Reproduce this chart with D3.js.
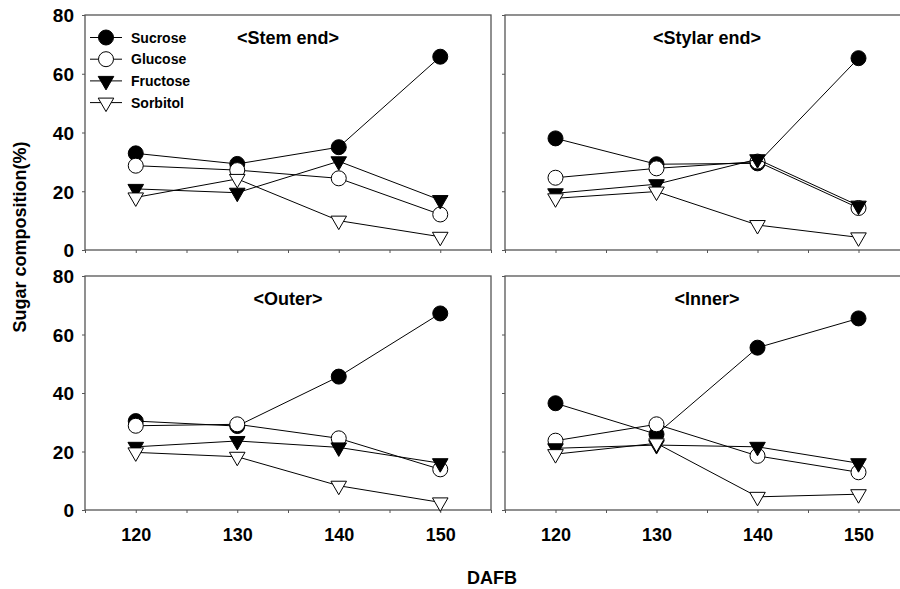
<!DOCTYPE html>
<html>
<head>
<meta charset="utf-8">
<script src="https://cdn.jsdelivr.net/npm/d3@7"></script>
<style>
  body { margin: 0; background: #fff; }
  text { font-family: Arial, "Liberation Sans", sans-serif; font-weight: bold; fill: #000; }
</style>
</head>
<body>
<script>
// days after full bloom
var days = [120, 130, 140, 150];
var yTicks = [0, 20, 40, 60, 80];
var xTickLabels = [120, 130, 140, 150];
var seriesNames = ["Sucrose", "Glucose", "Fructose", "Sorbitol"];
var panelTitles = ["<Stem end>", "<Stylar end>", "<Outer>", "<Inner>"];

// sugar composition (%) per panel, order: sucrose, glucose, fructose, sorbitol
var stemEnd = [
  [32.9, 29.3, 35.0, 65.8],
  [28.7, 27.2, 24.4, 12.1],
  [20.8, 19.5, 30.2, 17.0],
  [17.9, 24.2, 10.0, 4.5]
];
var stylarEnd = [
  [38.0, 29.2, 29.5, 65.3],
  [24.6, 27.8, 30.1, 14.3],
  [19.3, 22.4, 30.9, 15.1],
  [17.6, 19.9, 8.5, 4.3]
];
var outer = [
  [30.4, 28.7, 45.6, 67.2],
  [28.8, 29.3, 24.5, 13.9],
  [21.6, 23.6, 21.4, 16.0],
  [19.7, 18.2, 8.3, 2.6]
];
var inner = [
  [36.5, 25.9, 55.5, 65.5],
  [23.7, 29.3, 18.5, 12.9],
  [21.1, 22.2, 21.6, 16.0],
  [19.1, 22.8, 4.5, 5.4]
];
var panelData = [stemEnd, stylarEnd, outer, inner];

var width = 900, height = 589;

var svg = d3.select("body").append("svg")
    .attr("width", width)
    .attr("height", height);

//panel frames in pixels
var panels = [
  {x0: 85, x1: 491, y0: 15, y1: 250, left: true, bottom: false},
  {x0: 505, x1: 909, y0: 15, y1: 250, left: false, bottom: false},
  {x0: 85, x1: 491, y0: 276, y1: 510, left: true, bottom: true},
  {x0: 505, x1: 909, y0: 276, y1: 510, left: false, bottom: true}
];

//marker drawers
var triSym = d3.symbol().type(d3.symbolTriangle).size(105);
function drawMarker(g, k, px, py) {
  if (k < 2) {
    g.append("circle")
      .attr("cx", px).attr("cy", py).attr("r", 7.5)
      .attr("fill", k == 0 ? "#000" : "#fff")
      .attr("stroke", "#000").attr("stroke-width", 1);
  } else {
    g.append("path")
      .attr("d", triSym())
      .attr("transform", "translate(" + px + "," + py + ") rotate(180)")
      .attr("fill", k == 2 ? "#000" : "#fff")
      .attr("stroke", "#000").attr("stroke-width", 1);
  }
}

panels.forEach(function(p, i) {
  var x = d3.scaleLinear().domain([115, 155]).range([p.x0, p.x1]);
  var y = d3.scaleLinear().domain([0, 80]).range([p.y1, p.y0]);
  var g = svg.append("g");

  //frame
  g.append("rect")
    .attr("x", p.x0).attr("y", p.y0)
    .attr("width", p.x1 - p.x0).attr("height", p.y1 - p.y0)
    .attr("fill", "none").attr("stroke", "#555").attr("stroke-width", 1.3);

  //x axis ticks
  var xAxis = d3.axisBottom(x)
      .tickValues(d3.range(115, 156, 5))
      .tickSize(3)
      .tickFormat(function(d) { return p.bottom && xTickLabels.indexOf(d) >= 0 ? d : ""; });
  var xa = g.append("g")
      .attr("transform", "translate(0," + p.y1 + ")")
      .call(xAxis);
  xa.select(".domain").remove();
  xa.selectAll("line").attr("stroke", "#555");
  xa.selectAll("text").attr("font-size", 18).attr("dy", 0).attr("y", 31)
    .attr("font-family", "Arial, 'Liberation Sans', sans-serif").attr("font-weight", "bold");

  //y axis ticks
  var yAxis = d3.axisLeft(y)
      .tickValues(yTicks)
      .tickSize(3)
      .tickFormat(function(d) { return p.left ? d : ""; });
  var ya = g.append("g")
      .attr("transform", "translate(" + p.x0 + ",0)")
      .call(yAxis);
  ya.select(".domain").remove();
  ya.selectAll("line").attr("stroke", "#555");
  ya.selectAll("text").attr("font-size", 19).attr("x", -11).attr("dy", "0.36em")
    .attr("font-family", "Arial, 'Liberation Sans', sans-serif").attr("font-weight", "bold");

  //title
  g.append("text")
    .attr("x", x(135)).attr("y", y(80) + 29)
    .attr("text-anchor", "middle")
    .attr("font-size", 18)
    .text(panelTitles[i]);

  //series
  var line = d3.line()
      .x(function(d, j) { return x(days[j]); })
      .y(function(d) { return y(d); });
  panelData[i].forEach(function(vals, k) {
    g.append("path")
      .datum(vals)
      .attr("d", line)
      .attr("fill", "none").attr("stroke", "#000").attr("stroke-width", 1);
    vals.forEach(function(v, j) {
      drawMarker(g, k, x(days[j]), y(v));
    });
  });
});

//legend
var legend = svg.append("g");
seriesNames.forEach(function(name, k) {
  var ly = 37.5 + k * 21.7;
  legend.append("line")
    .attr("x1", 90).attr("x2", 122).attr("y1", ly).attr("y2", ly)
    .attr("stroke", "#000").attr("stroke-width", 1);
  drawMarker(legend, k, 106, ly);
  legend.append("text")
    .attr("x", 131).attr("y", ly).attr("dy", "0.36em")
    .attr("font-size", 14)
    .text(name);
});

//axis titles
svg.append("text")
  .attr("transform", "translate(26,237) rotate(-90)")
  .attr("text-anchor", "middle")
  .attr("font-size", 18)
  .text("Sugar composition(%)");

svg.append("text")
  .attr("x", 492).attr("y", 584)
  .attr("text-anchor", "middle")
  .attr("font-size", 18)
  .text("DAFB");
</script>
</body>
</html>
